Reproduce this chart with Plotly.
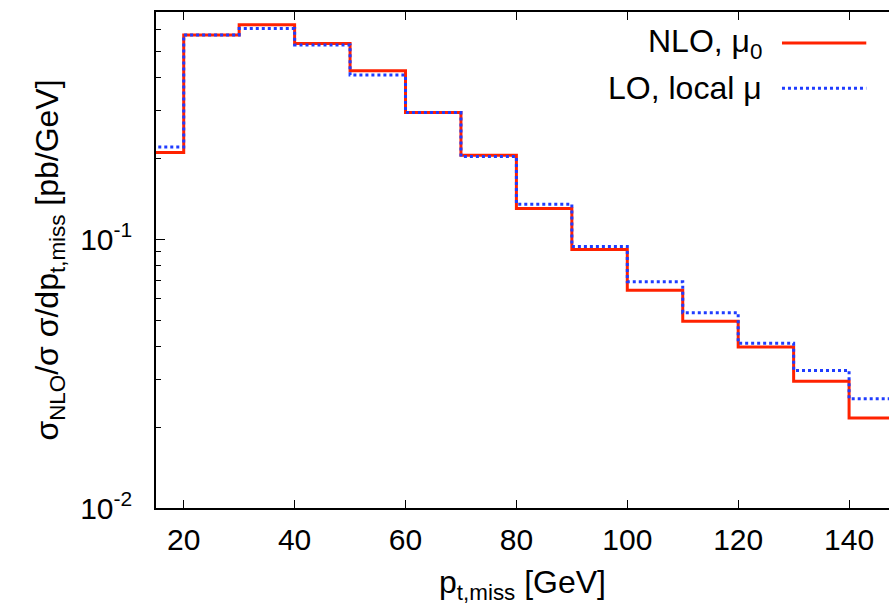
import plotly.graph_objects as go

# Bin edges in p_t,miss [GeV] and normalised distributions [pb/GeV]
bin_edges = [10, 20, 30, 40, 50, 60, 70, 80, 90, 100, 110, 120, 130, 140, 150]
nlo_mu0 = [0.210, 0.575, 0.627, 0.534, 0.423, 0.296, 0.205, 0.130,
           0.0916, 0.0645, 0.0495, 0.0397, 0.0296, 0.0216]
lo_local_mu = [0.220, 0.575, 0.607, 0.528, 0.408, 0.296, 0.203, 0.135,
               0.0939, 0.0695, 0.0533, 0.0410, 0.0325, 0.0255]

x_ticks = [20, 40, 60, 80, 100, 120, 140]
y_major = [0.01, 0.1]
y_major_text = ["10<sup>-2</sup>", "10<sup>-1</sup>"]
y_minor = [m * d for d in (0.01, 0.1) for m in range(2, 10)]

legend_labels = ["NLO, μ<sub>0</sub>", "LO, local μ"]

RED = "#ff2200"
BLUE = "#1f3cff"
FONT = "Liberation Sans, Arial, Helvetica, sans-serif"


def steps(values):
    # repeat the last bin value so the final bin gets its full width
    return values + [values[-1]]


fig = go.Figure()
fig.add_trace(go.Scatter(
    x=bin_edges, y=steps(nlo_mu0), mode="lines", line_shape="hv",
    line=dict(color=RED, width=3), name=legend_labels[0], showlegend=False,
))
fig.add_trace(go.Scatter(
    x=bin_edges, y=steps(lo_local_mu), mode="lines", line_shape="hv",
    line=dict(color=BLUE, width=3, dash="3px,3px"), name=legend_labels[1],
    showlegend=False,
))

# legend: label on the left, line sample on the right
legend_rows = [(0.9375, RED, "solid"), (0.8465, BLUE, "3px,3px")]
for label, (yrow, col, dash) in zip(legend_labels, legend_rows):
    fig.add_annotation(
        x=0.829, y=yrow, xref="paper", yref="paper", xanchor="right",
        yanchor="middle", text=label, showarrow=False,
        font=dict(family=FONT, size=32, color="black"),
    )
    fig.add_shape(
        type="line", xref="paper", yref="paper", x0=0.854, x1=0.969,
        y0=yrow, y1=yrow, line=dict(color=col, width=3, dash=dash),
    )

axis_common = dict(
    showline=True, linecolor="black", linewidth=1.6,
    ticks="inside", tickcolor="black", tickwidth=1.2, showgrid=False,
    zeroline=False, tickfont=dict(family=FONT, size=30, color="black"),
)

fig.update_xaxes(
    range=[15, 147.2], tickmode="array", tickvals=x_ticks, ticklen=8,
    mirror="ticks", ticklabelstandoff=4,
    title=dict(text="p<sub>t,miss</sub> [GeV]", standoff=16,
               font=dict(family=FONT, size=32, color="black")),
    **axis_common,
)
fig.update_yaxes(
    type="log", range=[-2, -0.155], tickmode="array", tickvals=y_major,
    ticktext=y_major_text, ticklen=9, mirror=False, ticklabelstandoff=16,
    minor=dict(tickmode="array", tickvals=y_minor, ticks="inside",
               ticklen=5, tickcolor="black", tickwidth=1.2, showgrid=False),
    title=dict(text="σ<sub>NLO</sub>/σ σ/dp<sub>t,miss</sub> [pb/GeV]",
               standoff=12, font=dict(family=FONT, size=32, color="black")),
    **axis_common,
)

fig.update_layout(
    width=889, height=608,
    margin=dict(l=155.5, r=0, t=12, b=100, pad=0),
    paper_bgcolor="white", plot_bgcolor="white",
    font=dict(family=FONT, size=30, color="black"),
)

fig.write_html("out.html")
